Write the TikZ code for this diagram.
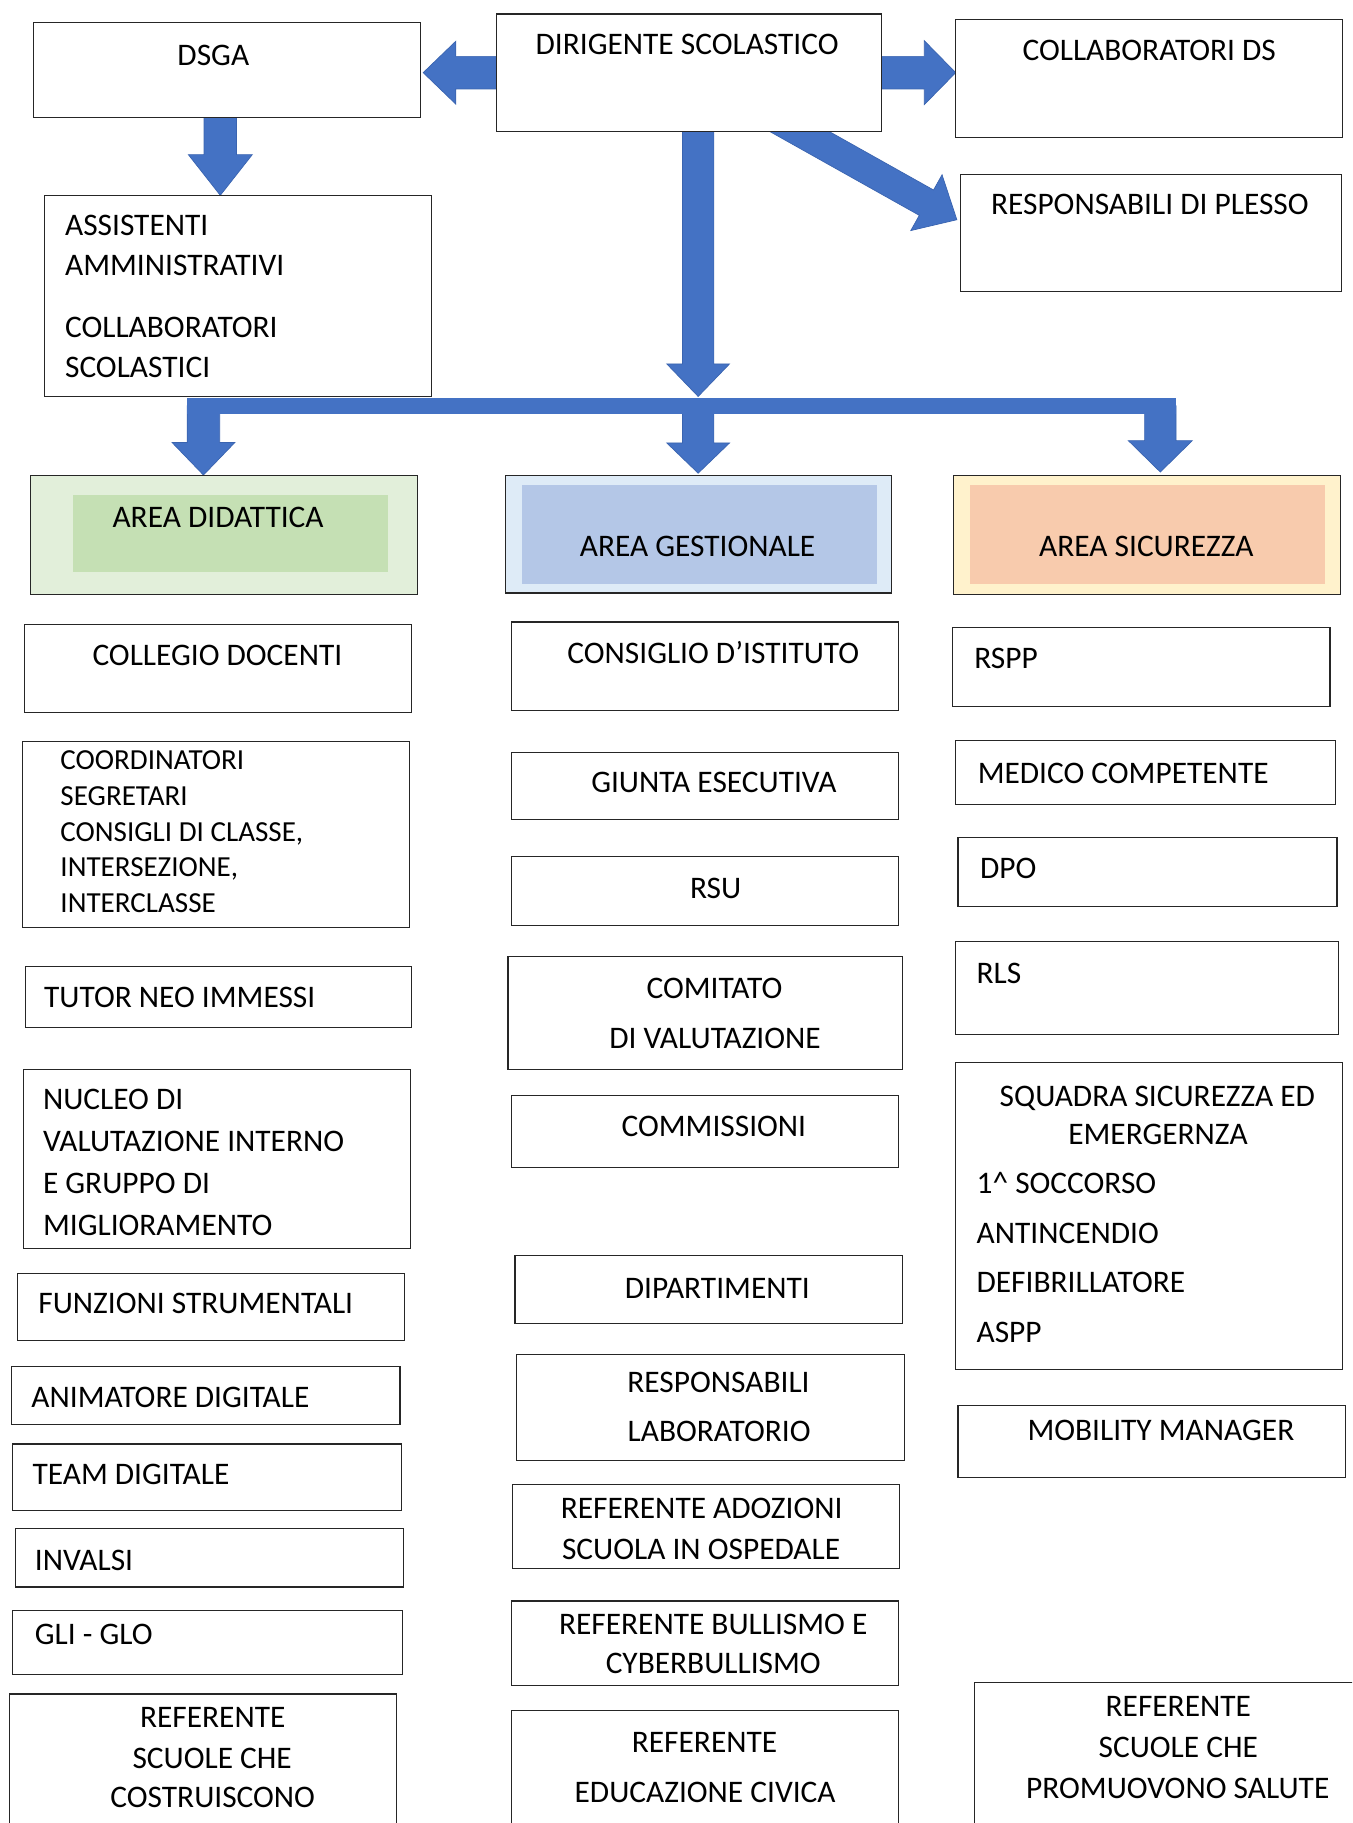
\documentclass[tikz,border=0pt]{standalone}
\usepackage{fontspec}
\setmainfont{Carlito}
\usetikzlibrary{calc}
\definecolor{arrowblue}{HTML}{4472C4}
\definecolor{arrowedge}{HTML}{3A64B0}
\definecolor{didout}{HTML}{E2EFDA}
\definecolor{didin}{HTML}{C5E0B4}
\definecolor{gesout}{HTML}{DEEBF7}
\definecolor{gesin}{HTML}{B4C7E7}
\definecolor{sicout}{HTML}{FFF2CC}
\definecolor{sicin}{HTML}{F8CBAD}
\definecolor{boxline}{HTML}{262626}
\newcommand\fsn{\fontsize{27}{32}\selectfont}
\newcommand\fss{\fontsize{25}{30}\selectfont}
% [style] name x1 y1 x2 y2
\newcommand\mybox[6][]{\node[boxstyle,#1,minimum width={#5pt-#3pt},minimum height={#6pt-#4pt}] (#2) at ({(#3+#5)/2},{(#4+#6)/2}) {};}
% [style] name x ycenter text
\newcommand\tx[5][]{\node[txt,#1] (#2) at (#3,{#4+8.7}) {#5};}
% start tip halfshaft halfhead headlength
\newcommand\blockarrow[5]{%
  \coordinate (ba-h) at ($(#2)!#5!(#1)$);
  \filldraw[barrow] ($(#1)!#3!90:(#2)$) -- ($(ba-h)!#3!90:(#2)$) -- ($(ba-h)!#4!90:(#2)$) -- (#2) -- ($(ba-h)!#4!-90:(#2)$) -- ($(ba-h)!#3!-90:(#2)$) -- ($(#1)!#3!-90:(#2)$) -- cycle;}
\tikzset{
  boxstyle/.style={draw=boxline,line width=1pt,fill=white,inner sep=0pt,outer sep=0pt,rectangle},
  txt/.style={inner sep=0pt,outer sep=0pt,anchor=base,font=\fsn,text=black},
  ltxt/.style={txt,anchor=base west},
  barrow/.style={fill=arrowblue,draw=arrowedge,line width=0.6pt,line join=miter},
}
\begin{document}
\begin{tikzpicture}[x=1pt,y=-1pt]
\useasboundingbox (0,0) rectangle (1163,1568);
\clip (0,0) rectangle (1163,1568);
\fill[white] (0,0) rectangle (1163,1568);

% ---------- arrows
\coordinate (a1s) at (427,62.5);
\coordinate (a1t) at (364,62.5);
\coordinate (a2s) at (758,62.5);
\coordinate (a2t) at (822,62.5);
\coordinate (a3s) at (189.5,100);
\coordinate (a3t) at (189.5,168);
\coordinate (a4s) at (600.5,100);
\coordinate (a4t) at (600.5,341);
\coordinate (a5s) at (175,349);
\coordinate (a5t) at (175,408.6);
\coordinate (a6s) at (600.5,349);
\coordinate (a6t) at (600.5,407);
\coordinate (a7s) at (998,349);
\coordinate (a7t) at (998,406);
\coordinate (a8s) at (657.3,96.1);
\coordinate (a8t) at (823,189);

\blockarrow{a1s}{a1t}{14pt}{27pt}{28pt}
\blockarrow{a2s}{a2t}{14pt}{27.5pt}{27pt}
\blockarrow{a3s}{a3t}{14pt}{27.5pt}{35pt}
\blockarrow{a4s}{a4t}{13.5pt}{27pt}{28pt}
\blockarrow{a5s}{a5t}{14pt}{27pt}{28pt}
\blockarrow{a6s}{a6t}{13.5pt}{27pt}{26pt}
\blockarrow{a7s}{a7t}{13.5pt}{27.5pt}{27pt}
\blockarrow{a8s}{a8t}{12.5pt}{27.5pt}{30pt}
\fill[arrowblue] (161,342) rectangle (1011.6,356);

% ---------- top boxes
\mybox{dsga}{29}{19}{362}{101}
\mybox{ds}{427}{12}{758}{113}
\mybox{collab}{822}{17}{1155}{118}
\mybox{plesso}{826}{150}{1154}{251}
\mybox{assist}{38}{168}{371}{341}

\tx{t-dsga}{183.5}{48}{DSGA}
\tx{t-ds}{591}{38}{DIRIGENTE SCOLASTICO}
\tx{t-collab}{988.5}{43}{COLLABORATORI DS}
\tx{t-plesso}{989}{176}{RESPONSABILI DI PLESSO}
\tx[ltxt]{t-as1}{56}{194}{ASSISTENTI}
\tx[ltxt]{t-as2}{56}{228}{AMMINISTRATIVI}
\tx[ltxt]{t-as3}{56}{282}{COLLABORATORI}
\tx[ltxt]{t-as4}{56}{316}{SCOLASTICI}

% ---------- area headers
\mybox[fill=didout]{did}{26}{409}{359}{511}
\fill[didin] (63,426) rectangle (334,492);
\mybox[fill=gesout]{ges}{435}{409}{767}{510}
\fill[gesin] (449,417) rectangle (754,502);
\mybox[fill=sicout]{sic}{820}{409}{1153}{511}
\fill[sicin] (834,417) rectangle (1140,502);
\tx{t-did}{187.6}{445}{AREA DIDATTICA}
\tx{t-ges}{600}{469.7}{AREA GESTIONALE}
\tx{t-sic}{986}{469.7}{AREA SICUREZZA}

% ---------- left column
\mybox{collegio}{21}{537}{354}{613}
\mybox{coord}{19}{638}{352}{798}
\mybox{tutor}{22}{831}{354}{884}
\mybox{nucleo}{20}{920}{353}{1074}
\mybox{funzioni}{15}{1095}{348}{1153}
\mybox{animatore}{10}{1175}{344}{1225}
\mybox{team}{11}{1242}{345}{1299}
\mybox{invalsi}{13}{1315}{347}{1365}
\mybox{gli}{11}{1385}{346}{1440}
\mybox{refcostr}{8}{1457}{341}{1600}

\tx{t-collegio}{187}{564}{COLLEGIO DOCENTI}
\tx[ltxt,font=\fss]{t-co1}{52}{653.5}{COORDINATORI}
\tx[ltxt,font=\fss]{t-co2}{52}{684.5}{SEGRETARI}
\tx[ltxt,font=\fss]{t-co3}{52}{715.5}{CONSIGLI DI CLASSE,}
\tx[ltxt,font=\fss]{t-co4}{52}{745.5}{INTERSEZIONE,}
\tx[ltxt,font=\fss]{t-co5}{52}{776.5}{INTERCLASSE}
\tx[ltxt]{t-tutor}{38}{858}{TUTOR NEO IMMESSI}
\tx[ltxt]{t-nu1}{37}{946}{NUCLEO DI}
\tx[ltxt]{t-nu2}{37}{982}{VALUTAZIONE INTERNO}
\tx[ltxt]{t-nu3}{37}{1018}{E GRUPPO DI}
\tx[ltxt]{t-nu4}{37}{1054}{MIGLIORAMENTO}
\tx[ltxt]{t-funz}{33}{1121}{FUNZIONI STRUMENTALI}
\tx[ltxt]{t-anim}{27}{1202}{ANIMATORE DIGITALE}
\tx[ltxt]{t-team}{28}{1268}{TEAM DIGITALE}
\tx[ltxt]{t-inv}{30}{1342}{INVALSI}
\tx[ltxt]{t-gli}{30}{1406}{GLI - GLO}
\tx{t-rc1}{183}{1477}{REFERENTE}
\tx{t-rc2}{182.5}{1512}{SCUOLE CHE}
\tx{t-rc3}{183}{1546}{COSTRUISCONO}

% ---------- middle column
\mybox{consiglio}{440}{535}{773}{611}
\mybox{giunta}{440}{647}{773}{705}
\mybox{rsu}{440}{737}{773}{796}
\mybox{comitato}{437}{823}{776}{920}
\mybox{commissioni}{440}{942}{773}{1004}
\mybox{dipartimenti}{443}{1080}{776}{1138}
\mybox{resplab}{444}{1165}{778}{1256}
\mybox{adozioni}{441}{1277}{774}{1349}
\mybox{bullismo}{440}{1377}{773}{1450}
\mybox{edciv}{440}{1471}{773}{1600}

\tx{t-consiglio}{613.5}{562}{CONSIGLIO D’ISTITUTO}
\tx{t-giunta}{614}{673}{GIUNTA ESECUTIVA}
\tx{t-rsu}{615.5}{764}{RSU}
\tx{t-com1}{614.5}{850}{COMITATO}
\tx{t-com2}{615}{893}{DI VALUTAZIONE}
\tx{t-commis}{614}{969}{COMMISSIONI}
\tx{t-dip}{617}{1108}{DIPARTIMENTI}
\tx{t-rl1}{618}{1189}{RESPONSABILI}
\tx{t-rl2}{618.5}{1231}{LABORATORIO}
\tx{t-ad1}{603.5}{1297}{REFERENTE ADOZIONI}
\tx{t-ad2}{603}{1333}{SCUOLA IN OSPEDALE}
\tx{t-bu1}{613.5}{1397}{REFERENTE BULLISMO E}
\tx{t-bu2}{613.5}{1431}{CYBERBULLISMO}
\tx{t-ec1}{606}{1499}{REFERENTE}
\tx{t-ec2}{606.5}{1542}{EDUCAZIONE CIVICA}

% ---------- right column
\mybox{rspp}{819}{540}{1144}{608}
\mybox{medico}{822}{637}{1149}{692}
\mybox{dpo}{824}{720}{1150}{780}
\mybox{rls}{822}{810}{1151}{890}
\mybox{squadra}{822}{914}{1155}{1178}
\mybox{mobility}{824}{1209}{1157}{1271}
\mybox{refsalute}{838}{1447}{1200}{1600}

\tx[ltxt]{t-rspp}{838}{566}{RSPP}
\tx[ltxt]{t-medico}{841}{665}{MEDICO COMPETENTE}
\tx[ltxt]{t-dpo}{843}{747}{DPO}
\tx[ltxt]{t-rls}{840}{837}{RLS}
\tx{t-sq1}{995.5}{943}{SQUADRA SICUREZZA ED}
\tx{t-sq2}{996}{976}{EMERGERNZA}
\tx[ltxt]{t-sq3}{840}{1018}{1\textasciicircum{} SOCCORSO}
\tx[ltxt]{t-sq4}{840}{1061}{ANTINCENDIO}
\tx[ltxt]{t-sq5}{840}{1103}{DEFIBRILLATORE}
\tx[ltxt]{t-sq6}{840}{1146}{ASPP}
\tx{t-mob}{998.5}{1230}{MOBILITY MANAGER}
\tx{t-rs1}{1013.5}{1468}{REFERENTE}
\tx{t-rs2}{1013.5}{1503}{SCUOLE CHE}
\tx{t-rs3}{1013}{1538}{PROMUOVONO SALUTE}
\end{tikzpicture}
\end{document}
